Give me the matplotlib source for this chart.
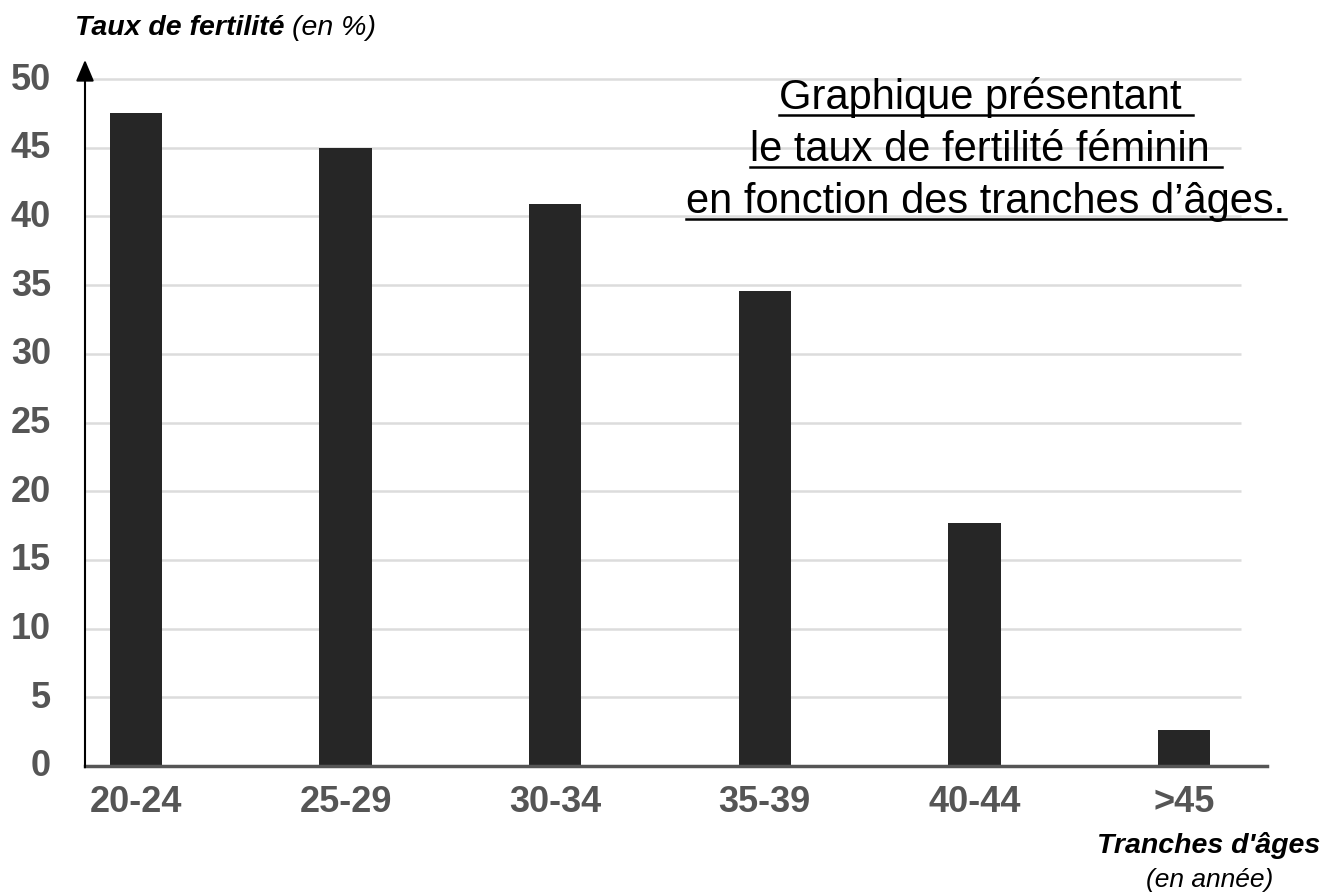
import matplotlib
matplotlib.use("Agg")
from matplotlib import pyplot as plt
from matplotlib import transforms

categories = ["20-24", "25-29", "30-34", "35-39", "40-44", ">45"]
taux = [47.5, 45.0, 40.9, 34.6, 17.7, 2.6]
yticks = [0, 5, 10, 15, 20, 25, 30, 35, 40, 45, 50]

plt.rcParams['font.family'] = ['Liberation Sans', 'DejaVu Sans']

fig = plt.figure(figsize=(13.35, 8.95), dpi=100)
W, H = 1335, 895
ax = fig.add_axes([85 / W, 1 - 767 / H, (1267 - 85) / W, (767 - 65) / H])

x = list(range(len(categories)))
ax.set_xlim(-0.243, 5.396)
ax.set_ylim(0, 51.1)

# horizontal grid lines
ax.hlines(yticks[1:], -0.243, 5.27, color="#dcdcdc", lw=1.8, zorder=0)
ax.bar(x, taux, width=0.25, color="#262626", zorder=2)

for s in ["top", "right", "left"]:
    ax.spines[s].set_visible(False)
ax.spines["bottom"].set_color("#555555")
ax.spines["bottom"].set_linewidth(2.5)

# vertical axis with arrow
ax.annotate("", xy=(-0.243, 51.4), xytext=(-0.243, -0.1),
            xycoords="data", annotation_clip=False,
            arrowprops=dict(arrowstyle="-|>,head_length=1.3,head_width=0.55",
                            color="black", lw=1.5, shrinkA=0, shrinkB=0))

# y tick labels, right aligned at x = 50 px
ax.set_yticks(yticks)
ax.set_yticklabels([])
ax.tick_params(axis="y", length=0)
lab_tr = transforms.blended_transform_factory(fig.transFigure, ax.transData)
for v in yticks:
    ax.text(51 / W, v, str(v), ha="right", va="center", fontsize=26,
            fontweight="bold", color="#555555", transform=lab_tr)

ax.set_xticks(x)
ax.set_xticklabels(categories, fontsize=26, fontweight="bold", color="#555555")
ax.tick_params(axis="x", length=0, pad=13)

# axis titles
fig.canvas.draw()
r = fig.canvas.get_renderer()
t1 = fig.text(75 / W, 1 - 28 / H, "Taux de fertilité", fontsize=20.5, fontweight="bold",
              style="italic", va="center", ha="left")
bb = t1.get_window_extent(renderer=r)
fig.text(bb.x1 / W + 7 / W, 1 - 28 / H, "(en %)", fontsize=20.5, style="italic",
         va="center", ha="left")
fig.text(1320 / W, 1 - 846 / H, "Tranches d'âges", fontsize=20.5, fontweight="bold",
         style="italic", va="center", ha="right")
fig.text(1210 / W, 1 - 880 / H, "(en année)", fontsize=19, style="italic",
         va="center", ha="center")

# underlined title
lines = ["Graphique présentant ", "le taux de fertilité féminin ",
         "en fonction des tranches d’âges."]
baselines = [109, 161, 213]
for t, yy in zip(lines, baselines):
    txt = fig.text(986 / W, 1 - yy / H, t, fontsize=30, ha="center",
                   va="baseline", color="black")
    bb = txt.get_window_extent(renderer=r)
    yline = 1 - (yy + 7) / H
    fig.add_artist(plt.Line2D([bb.x0 / W, bb.x1 / W], [yline, yline],
                              transform=fig.transFigure, color="black", lw=1.8))

fig.savefig("out.png", dpi=100)
